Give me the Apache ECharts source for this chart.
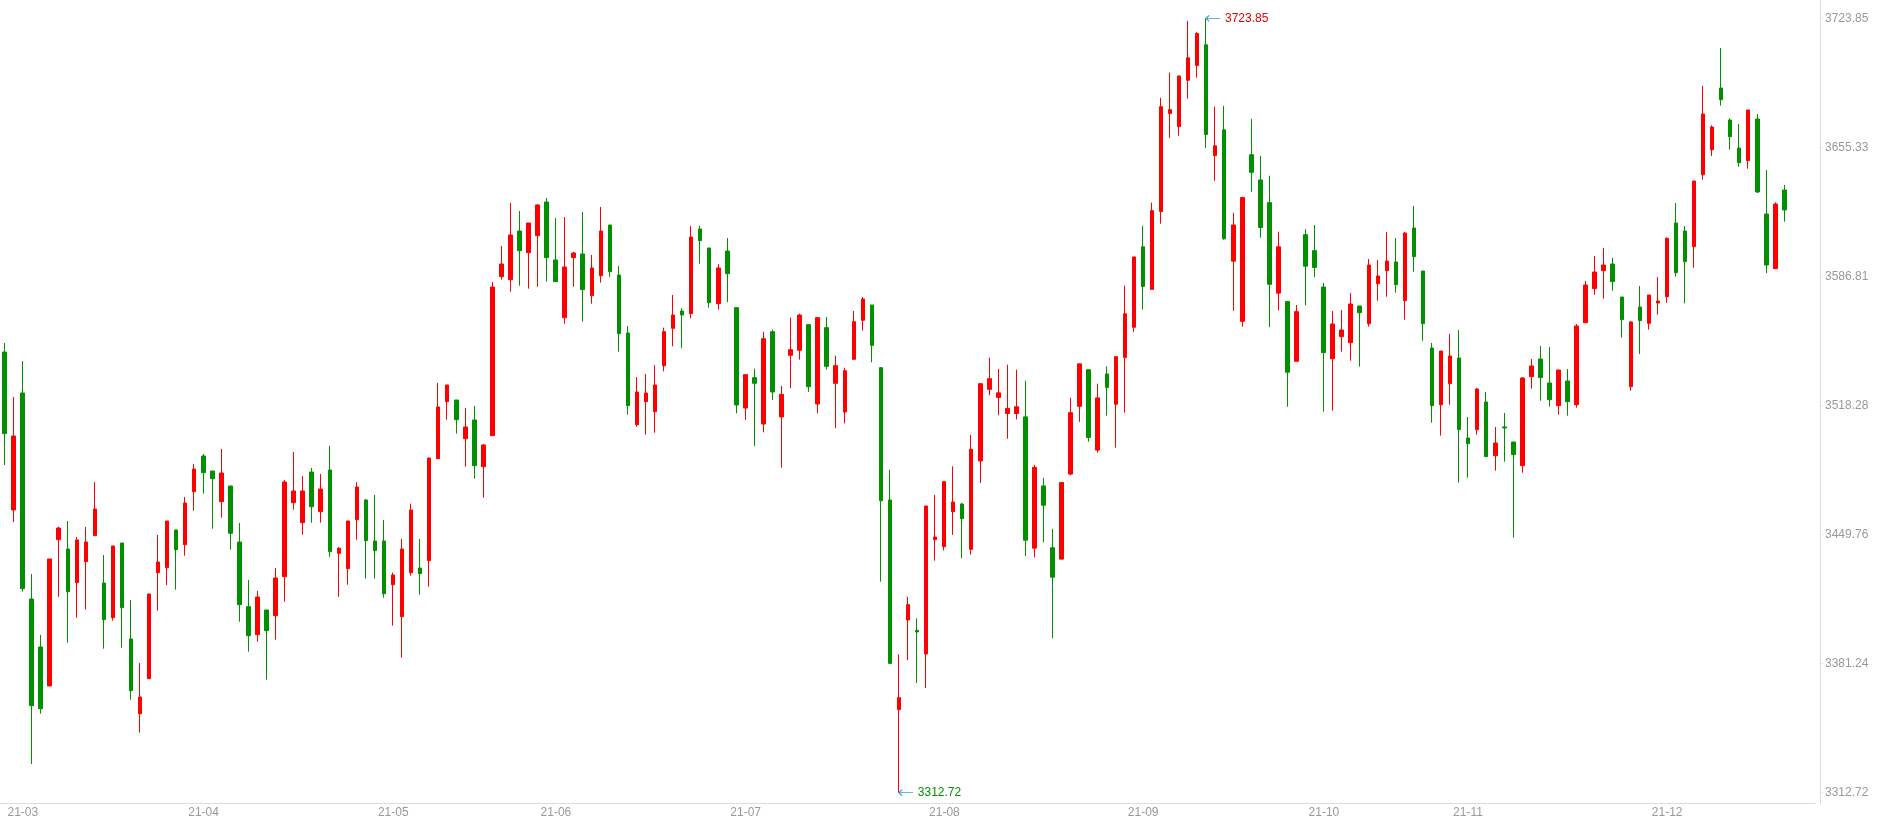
<!DOCTYPE html>
<html lang="zh">
<head>
<meta charset="UTF-8">
<title>K线</title>
<script src="https://cdn.jsdelivr.net/npm/echarts@6/dist/echarts.min.js"></script>
<style>
  html, body { margin: 0; padding: 0; background: #fff; }
  #chart { width: 1880px; height: 825px; }
</style>
</head>
<body>
<div id="chart"></div>
<script>
// 交易日 (2021-03-04 起, 末尾三个为空位)
var dates = [
  '2021-03-04','2021-03-05','2021-03-08','2021-03-09','2021-03-10','2021-03-11','2021-03-12','2021-03-15','2021-03-16','2021-03-17',
  '2021-03-18','2021-03-19','2021-03-22','2021-03-23','2021-03-24','2021-03-25','2021-03-26','2021-03-29','2021-03-30','2021-03-31',
  '2021-04-01','2021-04-02','2021-04-06','2021-04-07','2021-04-08','2021-04-09','2021-04-12','2021-04-13','2021-04-14','2021-04-15',
  '2021-04-16','2021-04-19','2021-04-20','2021-04-21','2021-04-22','2021-04-23','2021-04-26','2021-04-27','2021-04-28','2021-04-29',
  '2021-04-30','2021-05-06','2021-05-07','2021-05-10','2021-05-11','2021-05-12','2021-05-13','2021-05-14','2021-05-17','2021-05-18',
  '2021-05-19','2021-05-20','2021-05-21','2021-05-24','2021-05-25','2021-05-26','2021-05-27','2021-05-28','2021-05-31','2021-06-01',
  '2021-06-02','2021-06-03','2021-06-04','2021-06-07','2021-06-08','2021-06-09','2021-06-10','2021-06-11','2021-06-15','2021-06-16',
  '2021-06-17','2021-06-18','2021-06-21','2021-06-22','2021-06-23','2021-06-24','2021-06-25','2021-06-28','2021-06-29','2021-06-30',
  '2021-07-01','2021-07-02','2021-07-05','2021-07-06','2021-07-07','2021-07-08','2021-07-09','2021-07-12','2021-07-13','2021-07-14',
  '2021-07-15','2021-07-16','2021-07-19','2021-07-20','2021-07-21','2021-07-22','2021-07-23','2021-07-26','2021-07-27','2021-07-28',
  '2021-07-29','2021-07-30','2021-08-02','2021-08-03','2021-08-04','2021-08-05','2021-08-06','2021-08-09','2021-08-10','2021-08-11',
  '2021-08-12','2021-08-13','2021-08-16','2021-08-17','2021-08-18','2021-08-19','2021-08-20','2021-08-23','2021-08-24','2021-08-25',
  '2021-08-26','2021-08-27','2021-08-30','2021-08-31','2021-09-01','2021-09-02','2021-09-03','2021-09-06','2021-09-07','2021-09-08',
  '2021-09-09','2021-09-10','2021-09-13','2021-09-14','2021-09-15','2021-09-16','2021-09-17','2021-09-22','2021-09-23','2021-09-24',
  '2021-09-27','2021-09-28','2021-09-29','2021-09-30','2021-10-08','2021-10-11','2021-10-12','2021-10-13','2021-10-14','2021-10-15',
  '2021-10-18','2021-10-19','2021-10-20','2021-10-21','2021-10-22','2021-10-25','2021-10-26','2021-10-27','2021-10-28','2021-10-29',
  '2021-11-01','2021-11-02','2021-11-03','2021-11-04','2021-11-05','2021-11-08','2021-11-09','2021-11-10','2021-11-11','2021-11-12',
  '2021-11-15','2021-11-16','2021-11-17','2021-11-18','2021-11-19','2021-11-22','2021-11-23','2021-11-24','2021-11-25','2021-11-26',
  '2021-11-29','2021-11-30','2021-12-01','2021-12-02','2021-12-03','2021-12-06','2021-12-07','2021-12-08','2021-12-09','2021-12-10',
  '2021-12-13','2021-12-14','2021-12-15','2021-12-16','2021-12-17','2021-12-20','2021-12-21','2021-12-22','2021-12-23','2021-12-24',
  '2021-12-27'
];

var opens = [
  3546.69,3462.81,3524.92,3415.55,3390.07,3369.37,3447.06,3442.10,3424.23,3435.37,
  3449.18,3424.05,3405.65,3445.28,3394.32,3354.67,3373.26,3429.53,3432.19,3452.19,
  3444.40,3472.54,3491.48,3483.51,3467.23,3475.55,3445.82,3411.49,3396.62,3409.72,
  3406.71,3427.41,3466.70,3456.08,3482.98,3461.92,3484.04,3439.80,3431.66,3457.67,
  3468.12,3446.35,3446.35,3423.17,3406.18,3429.54,3432.01,3435.91,3490.07,3520.33,
  3521.21,3500.68,3510.59,3485.81,3502.27,3586.69,3585.10,3610.93,3599.43,3608.46,
  3626.33,3595.54,3564.92,3596.78,3598.72,3576.60,3587.22,3614.12,3587.57,3556.78,
  3508.11,3520.33,3515.01,3539.44,3559.26,3568.46,3567.05,3611.99,3601.91,3572.35,
  3600.31,3570.23,3516.96,3533.07,3508.47,3557.49,3512.19,3544.93,3547.58,3561.21,
  3519.09,3559.61,3530.06,3514.84,3542.80,3563.51,3571.65,3538.38,3468.12,3356.81,
  3404.41,3398.93,3386.35,3447.06,3443.34,3461.93,3466.00,3441.93,3488.83,3526.87,
  3522.53,3514.04,3514.04,3512.25,3442.53,3475.61,3442.76,3436.72,3481.87,3517.84,
  3537.28,3494.60,3535.04,3518.96,3543.75,3559.84,3602.52,3579.95,3621.29,3673.35,
  3666.43,3690.96,3698.82,3709.77,3651.01,3664.64,3594.92,3562.97,3651.45,3638.05,
  3625.98,3577.94,3573.47,3541.75,3609.00,3600.51,3581.20,3543.15,3554.83,3551.65,
  3571.11,3561.73,3582.97,3589.87,3594.47,3573.94,3612.52,3589.69,3548.82,3518.72,
  3529.88,3543.51,3501.03,3505.46,3520.15,3491.65,3506.87,3498.91,3486.34,3533.60,
  3542.97,3530.23,3518.19,3531.29,3518.72,3562.26,3580.32,3589.87,3593.41,3575.89,
  3528.29,3570.58,3561.91,3572.70,3576.06,3615.17,3610.93,3602.61,3640.83,3654.11,
  3686.85,3669.86,3654.99,3648.27,3670.39,3619.95,3590.93,3632.69
];

var closes = [
  3503.33,3502.09,3421.04,3358.92,3357.33,3436.79,3453.25,3419.45,3446.88,3445.82,
  3463.34,3404.58,3443.69,3410.95,3366.89,3363.53,3418.21,3435.19,3456.96,3441.75,
  3466.52,3484.57,3482.62,3479.44,3482.45,3450.42,3412.54,3396.09,3416.61,3398.74,
  3426.71,3477.67,3472.89,3472.89,3464.57,3473.95,3440.68,3442.45,3456.97,3475.02,
  3446.53,3441.22,3418.39,3428.30,3442.10,3462.81,3429.01,3490.42,3517.50,3529.18,
  3510.77,3506.88,3486.34,3497.32,3581.20,3593.41,3608.81,3600.49,3615.18,3624.74,
  3596.78,3584.04,3591.82,3599.25,3579.79,3591.29,3610.93,3589.34,3556.43,3518.20,
  3525.46,3524.92,3529.18,3557.49,3566.34,3566.34,3607.75,3605.80,3572.88,3591.29,
  3588.28,3518.56,3534.66,3530.06,3553.77,3525.46,3524.22,3547.93,3566.34,3528.29,
  3564.92,3539.09,3539.44,3536.78,3562.80,3574.83,3550.23,3467.77,3381.40,3363.18,
  3412.55,3398.04,3464.93,3448.48,3477.85,3467.06,3458.21,3495.02,3529.88,3532.54,
  3524.99,3516.72,3517.61,3446.78,3485.44,3465.33,3427.12,3477.39,3514.49,3540.40,
  3501.30,3522.31,3527.89,3544.20,3566.99,3597.16,3581.52,3621.74,3676.93,3675.36,
  3693.24,3702.85,3715.80,3662.18,3656.15,3606.77,3614.14,3628.66,3642.07,3612.80,
  3582.63,3602.52,3535.93,3568.11,3592.24,3591.57,3546.34,3561.55,3558.37,3572.17,
  3567.57,3592.88,3587.04,3595.00,3582.44,3609.87,3597.30,3561.73,3518.19,3547.22,
  3544.57,3505.46,3498.02,3527.05,3491.12,3498.38,3506.34,3492.18,3532.89,3539.26,
  3533.07,3521.38,3537.13,3520.32,3560.49,3582.26,3589.16,3592.88,3584.03,3563.86,
  3562.62,3563.32,3576.95,3573.76,3607.03,3588.81,3594.64,3637.47,3673.04,3666.14,
  3680.65,3661.01,3647.21,3675.17,3631.63,3592.87,3625.26,3622.08
];

var lows = [
  3486.70,3456.43,3419.50,3327.95,3354.67,3369.37,3416.79,3392.37,3405.65,3409.89,
  3449.18,3389.19,3404.05,3389.72,3362.11,3344.59,3373.26,3409.36,3422.99,3420.51,
  3438.56,3462.45,3471.48,3452.90,3458.74,3441.75,3403.52,3387.60,3392.90,3372.73,
  3393.96,3414.14,3462.98,3449.71,3456.08,3456.08,3438.03,3416.79,3423.17,3447.06,
  3426.35,3426.35,3416.27,3401.40,3384.41,3427.94,3417.86,3422.10,3490.07,3510.77,
  3503.33,3485.81,3479.44,3469.35,3502.27,3585.10,3578.73,3581.91,3580.32,3581.38,
  3584.04,3584.04,3561.74,3581.38,3562.80,3572.35,3583.50,3586.69,3546.87,3513.42,
  3507.05,3502.80,3503.86,3536.43,3549.70,3548.64,3564.57,3593.59,3570.23,3569.17,
  3573.24,3514.13,3510.59,3496.79,3504.05,3521.21,3485.29,3527.41,3542.62,3525.46,
  3514.13,3537.31,3506.17,3508.82,3542.80,3558.02,3541.21,3424.76,3381.05,3312.72,
  3383.17,3370.96,3368.31,3435.91,3441.39,3449.54,3437.15,3439.10,3477.14,3523.69,
  3513.14,3500.63,3510.91,3438.29,3437.62,3445.67,3394.72,3436.72,3481.19,3509.57,
  3499.07,3493.26,3512.92,3495.95,3514.49,3557.38,3569.23,3579.95,3614.81,3660.39,
  3661.51,3681.17,3692.34,3655.03,3637.60,3606.32,3568.56,3560.07,3631.79,3607.44,
  3559.84,3568.78,3517.61,3541.75,3571.46,3586.43,3515.01,3515.54,3546.87,3542.09,
  3538.90,3560.14,3573.94,3576.07,3578.19,3563.86,3589.34,3552.71,3509.17,3502.27,
  3518.72,3477.32,3479.97,3502.80,3491.12,3483.69,3488.46,3448.12,3482.63,3527.23,
  3520.85,3517.67,3513.42,3512.89,3517.13,3562.26,3577.13,3575.01,3579.25,3554.30,
  3526.16,3545.63,3558.55,3566.51,3572.88,3586.68,3572.53,3591.46,3638.18,3650.75,
  3677.47,3654.11,3645.08,3644.02,3631.10,3588.63,3590.93,3615.88
];

var highs = [
  3551.47,3522.80,3541.91,3428.83,3396.44,3436.79,3453.96,3456.96,3448.47,3453.78,
  3477.67,3438.92,3443.69,3445.28,3415.02,3381.58,3418.21,3449.53,3456.96,3452.19,
  3469.71,3487.23,3492.54,3483.51,3495.19,3475.55,3455.90,3425.64,3419.80,3409.72,
  3432.01,3478.73,3493.60,3480.86,3485.10,3481.92,3496.78,3443.16,3456.97,3477.67,
  3468.65,3470.77,3457.50,3429.54,3447.41,3466.17,3447.41,3490.42,3530.24,3529.18,
  3521.21,3516.96,3518.02,3497.85,3583.86,3602.97,3625.80,3621.55,3615.18,3625.27,
  3628.45,3617.84,3618.37,3599.78,3621.02,3598.19,3623.68,3614.12,3592.35,3560.50,
  3533.42,3535.02,3539.79,3559.61,3576.96,3569.88,3613.59,3613.59,3601.91,3593.41,
  3607.22,3570.23,3534.66,3537.85,3557.49,3558.55,3528.64,3564.92,3567.05,3561.21,
  3565.28,3565.28,3544.75,3538.38,3568.46,3575.89,3571.65,3538.38,3484.05,3386.18,
  3416.80,3405.29,3464.93,3470.77,3477.85,3486.00,3466.53,3502.63,3529.88,3543.69,
  3537.72,3539.96,3537.28,3531.47,3486.78,3479.85,3452.82,3477.39,3522.31,3540.40,
  3537.28,3529.90,3539.07,3544.20,3581.96,3597.16,3613.69,3625.98,3681.62,3695.02,
  3693.24,3722.51,3716.47,3723.85,3676.93,3677.37,3620.62,3629.11,3670.45,3650.78,
  3640.28,3610.56,3573.47,3571.69,3611.90,3614.14,3583.32,3568.46,3568.99,3578.02,
  3571.11,3596.06,3595.53,3610.40,3607.21,3610.40,3624.20,3589.69,3551.47,3547.22,
  3556.25,3558.37,3512.18,3527.58,3525.46,3506.87,3514.30,3498.91,3533.42,3542.97,
  3549.88,3549.34,3537.13,3537.66,3561.55,3584.39,3597.66,3601.90,3596.60,3575.89,
  3563.15,3581.73,3576.95,3586.51,3607.57,3625.79,3613.58,3637.47,3687.91,3667.03,
  3708.08,3670.74,3667.73,3675.17,3673.04,3643.31,3626.15,3635.35
];

// 右侧刻度
var yTicks = [3312.72, 3381.24, 3449.76, 3518.28, 3586.81, 3655.33, 3723.85];

var upColor = '#ff0000';
var downColor = '#009000';
var lineColor = '#d4d4d4';
var textColor = '#999';
var fontFamily = 'Arial, "Liberation Sans", sans-serif';

var candles = opens.map(function (o, i) {
  return [o, closes[i], lows[i], highs[i]];
});

// 最高/最低点
var maxIdx = 0, minIdx = 0;
for (var i = 1; i < highs.length; i++) {
  if (highs[i] > highs[maxIdx]) maxIdx = i;
  if (lows[i] < lows[minIdx]) minIdx = i;
}

function isMonthStart(index) {
  return index === 0 || dates[index].slice(0, 7) !== dates[index - 1].slice(0, 7);
}
function isMonday(index) {
  return index < opens.length && new Date(dates[index] + 'T00:00:00Z').getUTCDay() === 1;
}

var myChart = echarts.init(document.getElementById('chart'));
myChart.setOption({
  animation: false,
  backgroundColor: '#fff',
  grid: { left: 0, right: 64, top: 0, bottom: 22 },
  xAxis: [{
    type: 'category',
    data: dates,
    position: 'bottom',
    axisLine: { lineStyle: { color: lineColor, type: 'dotted' } },
    axisTick: {
      alignWithLabel: true,
      interval: isMonthStart,
      length: 20,
      lineStyle: { color: lineColor, type: 'dotted' }
    },
    axisLabel: {
      interval: isMonthStart,
      formatter: function (v) { return v.slice(2, 7); },
      align: 'left',
      padding: [0, 0, 0, 3],
      margin: 4,
      color: textColor,
      fontSize: 12,
      fontFamily: fontFamily
    },
    splitLine: { show: false }
  }, {
    type: 'category',
    data: dates,
    position: 'bottom',
    axisLine: { show: false },
    axisTick: {
      alignWithLabel: true,
      interval: isMonday,
      length: 3,
      lineStyle: { color: lineColor }
    },
    axisLabel: { show: false },
    splitLine: { show: false }
  }],
  yAxis: {
    type: 'value',
    position: 'right',
    offset: 4,
    min: 3307.25,
    max: 3733.57,
    splitLine: { show: false },
    axisLine: { show: true, lineStyle: { color: lineColor, type: 'dotted' } },
    axisTick: {
      show: true,
      length: 4,
      customValues: yTicks,
      lineStyle: { color: lineColor, type: 'dotted' }
    },
    axisLabel: {
      customValues: yTicks,
      formatter: function (v) { return v.toFixed(2); },
      margin: 5,
      color: textColor,
      fontSize: 12,
      fontFamily: fontFamily
    }
  },
  series: [{
    type: 'candlestick',
    data: candles,
    barWidth: 4,
    itemStyle: {
      color: upColor,
      color0: downColor,
      borderColor: upColor,
      borderColor0: downColor,
      borderWidth: 1
    },
    markPoint: {
      symbol: 'path://M3,0 L0,3 L3,6 M0,3 L14,3',
      symbolSize: [14, 6],
      symbolOffset: [7, 0],
      symbolKeepAspect: false,
      itemStyle: { color: 'none', borderColor: '#3b9dd0', borderWidth: 1 },
      label: { show: true, position: 'right', distance: 1, fontSize: 12, fontFamily: fontFamily },
      data: [
        { name: 'max', coord: [dates[maxIdx], highs[maxIdx]], value: highs[maxIdx], label: { color: '#e60000' } },
        { name: 'min', coord: [dates[minIdx], lows[minIdx]], value: lows[minIdx], label: { color: downColor } }
      ]
    }
  }]
});
</script>
</body>
</html>
